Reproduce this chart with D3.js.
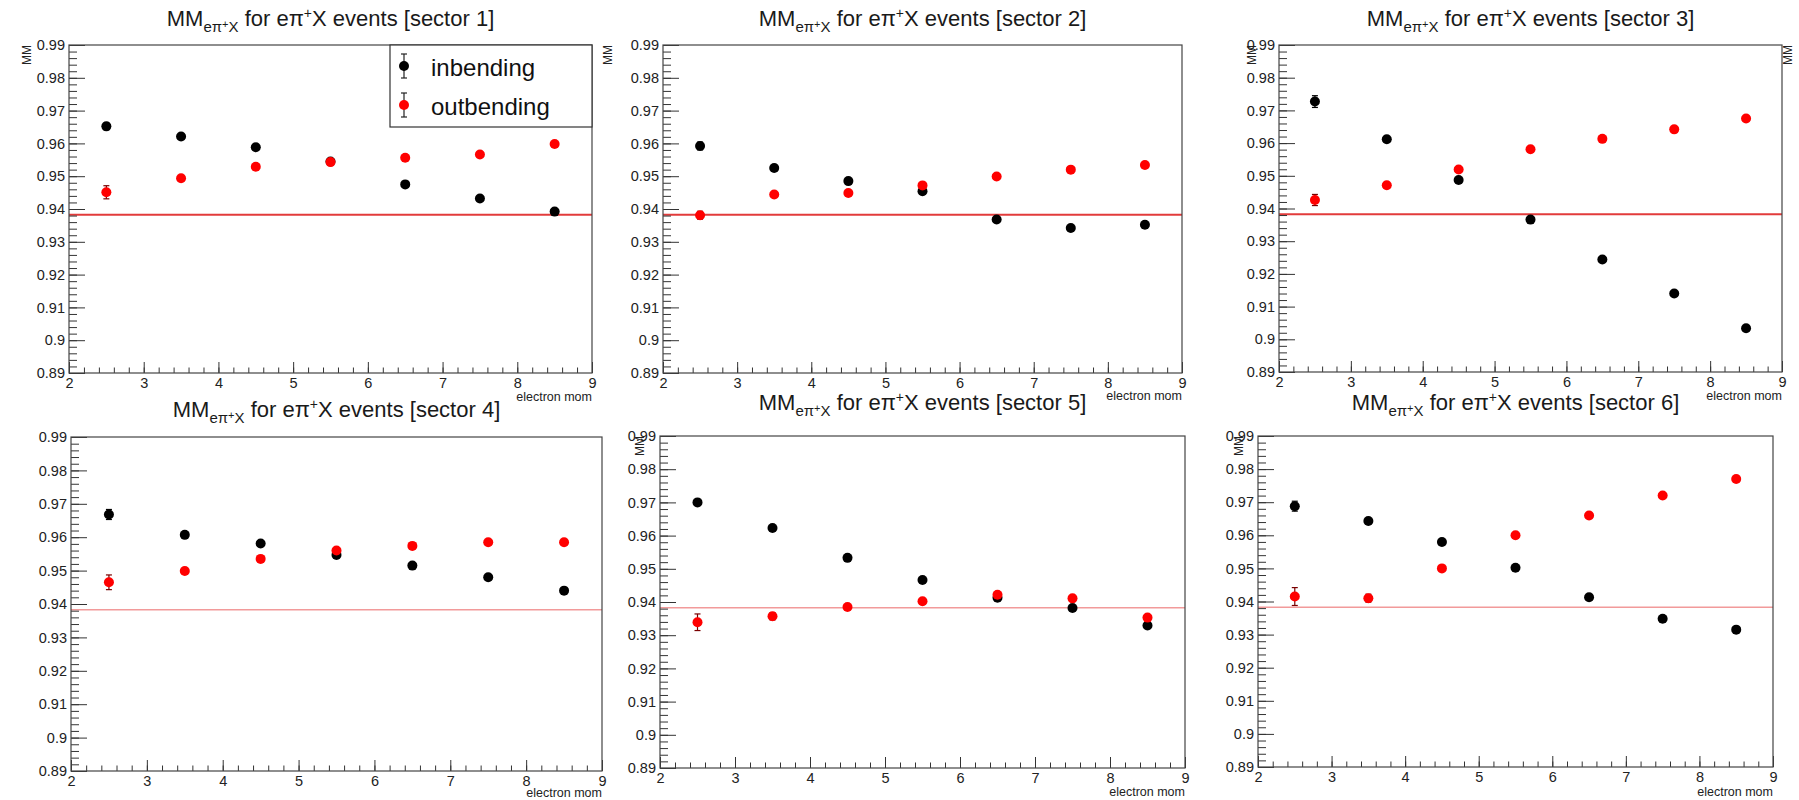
<!DOCTYPE html>
<html lang="en">
<head>
<meta charset="UTF-8">
<title>MM for e pi+ X events per sector</title>
<script src="https://d3js.org/d3.v7.min.js"></script>
<style>
  body { margin: 0; background: #fff; }
  svg { display: block; font-family: 'Liberation Sans', Arial, sans-serif; }
</style>
</head>
<body>
<script>
  // values
  const sectors = [1, 2, 3, 4, 5, 6];
  const electronMom = [2.5, 3.5, 4.5, 5.5, 6.5, 7.5, 8.5];

  const inbendingMM = [
    [0.9652, 0.9621, 0.9588, 0.9545, 0.9475, 0.9432, 0.9392],
    [0.9592, 0.9525, 0.9485, 0.9454, 0.9368, 0.9342, 0.9352],
    [0.9727, 0.9612, 0.9487, 0.9366, 0.9244, 0.9140, 0.9034],
    [0.9668, 0.9607, 0.9581, 0.9547, 0.9515, 0.9480, 0.9440],
    [0.9700, 0.9623, 0.9533, 0.9466, 0.9413, 0.9382, 0.9329],
    [0.9688, 0.9643, 0.9580, 0.9502, 0.9413, 0.9348, 0.9315]
  ];
  const inbendingErr = [
    [0.0010, 0.0005, 0.0005, 0.0005, 0.0005, 0.0005, 0.0005],
    [0.0012, 0.0006, 0.0005, 0.0005, 0.0005, 0.0005, 0.0005],
    [0.0018, 0.0006, 0.0005, 0.0005, 0.0005, 0.0005, 0.0005],
    [0.0015, 0.0006, 0.0005, 0.0005, 0.0005, 0.0005, 0.0005],
    [0.0008, 0.0005, 0.0005, 0.0005, 0.0005, 0.0005, 0.0005],
    [0.0015, 0.0006, 0.0005, 0.0005, 0.0005, 0.0005, 0.0005]
  ];
  const outbendingMM = [
    [0.9451, 0.9494, 0.9529, 0.9543, 0.9556, 0.9566, 0.9598],
    [0.9381, 0.9444, 0.9449, 0.9472, 0.9499, 0.9520, 0.9534],
    [0.9426, 0.9471, 0.9519, 0.9581, 0.9613, 0.9642, 0.9675],
    [0.9465, 0.9499, 0.9535, 0.9560, 0.9574, 0.9585, 0.9585],
    [0.9339, 0.9357, 0.9385, 0.9402, 0.9422, 0.9411, 0.9353],
    [0.9415, 0.9410, 0.9500, 0.9600, 0.9660, 0.9720, 0.9770]
  ];
  const outbendingErr = [
    [0.0020, 0.0007, 0.0005, 0.0005, 0.0005, 0.0005, 0.0005],
    [0.0012, 0.0006, 0.0005, 0.0005, 0.0005, 0.0005, 0.0005],
    [0.0017, 0.0007, 0.0005, 0.0005, 0.0005, 0.0005, 0.0005],
    [0.0022, 0.0008, 0.0005, 0.0005, 0.0005, 0.0005, 0.0005],
    [0.0025, 0.0011, 0.0005, 0.0005, 0.0005, 0.0005, 0.0005],
    [0.0027, 0.0012, 0.0006, 0.0005, 0.0005, 0.0005, 0.0005]
  ];
  const protonMass = 0.938272;

  const xTicks = [2, 3, 4, 5, 6, 7, 8, 9];
  const yTicks = [0.89, 0.90, 0.91, 0.92, 0.93, 0.94, 0.95, 0.96, 0.97, 0.98, 0.99];
  const legendLabels = ["inbending", "outbending"];

  // where each pasted-together pad sits on the page
  const pads = [
    { x0: 69, x1: 592, y0: 45, y1: 373, titleY: 26, mmX: 31, momY: 401, line: "#e23b3b", lw: 2 },
    { x0: 663, x1: 1182, y0: 45, y1: 373, titleY: 26, mmX: 612, momY: 400, line: "#e23b3b", lw: 2 },
    { x0: 1279, x1: 1782, y0: 45, y1: 372, titleY: 26, mmX: 1256, momY: 400, line: "#e23b3b", lw: 2 },
    { x0: 71, x1: 602, y0: 437, y1: 771, titleY: 417, mmX: null, momY: 797, line: "#f29a9a", lw: 1.5 },
    { x0: 660, x1: 1185, y0: 436, y1: 768, titleY: 410, mmX: 644, momY: 796, line: "#f29a9a", lw: 1.5 },
    { x0: 1258, x1: 1773, y0: 436, y1: 767, titleY: 410, mmX: 1243, momY: 796, line: "#f29a9a", lw: 1.5 }
  ];

  const width = 1799, height = 800;
  const svg = d3.select("body").append("svg")
    .attr("width", width)
    .attr("height", height);

  const fmt = d => String(+d.toFixed(2));
  const minorY = d3.range(0, 51).map(i => 0.89 + i * 0.002);
  const minorX = d3.range(0, 36).map(i => 2 + i * 0.2);

  function addTitle(g, cx, y, sector) {
    const t = g.append("text")
      .attr("x", cx).attr("y", y)
      .attr("text-anchor", "middle")
      .attr("fill", "#1a1a1a")
      .style("font-size", "22px");
    t.append("tspan").text("MM");
    t.append("tspan").attr("dy", 6).style("font-size", "15px").text("eπ");
    t.append("tspan").attr("dy", -4).style("font-size", "11px").text("+");
    t.append("tspan").attr("dy", 4).style("font-size", "15px").text("X");
    t.append("tspan").attr("dy", -6).text(" for eπ");
    t.append("tspan").attr("dy", -8).style("font-size", "14px").text("+");
    t.append("tspan").attr("dy", 8).text(`X events [sector ${sector}]`);
  }

  function drawSeries(g, x, y, vals, errs, color, errColor) {
    const pts = electronMom.map((m, i) => ({ m, v: vals[i], e: errs[i] }));
    const s = g.append("g");
    s.selectAll(".err").data(pts).enter().append("line")
      .attr("x1", d => x(d.m)).attr("x2", d => x(d.m))
      .attr("y1", d => y(d.v - d.e)).attr("y2", d => y(d.v + d.e))
      .attr("stroke", errColor).attr("stroke-width", 1.2);
    ["lo", "hi"].forEach(k => {
      s.selectAll(".cap" + k).data(pts).enter().append("line")
        .attr("x1", d => x(d.m) - 3).attr("x2", d => x(d.m) + 3)
        .attr("y1", d => y(k === "lo" ? d.v - d.e : d.v + d.e))
        .attr("y2", d => y(k === "lo" ? d.v - d.e : d.v + d.e))
        .attr("stroke", errColor).attr("stroke-width", 1.2);
    });
    s.selectAll(".dot").data(pts).enter().append("circle")
      .attr("cx", d => x(d.m)).attr("cy", d => y(d.v))
      .attr("r", 5).attr("fill", color);
  }

  sectors.forEach((sec, i) => {
    const p = pads[i];
    const g = svg.append("g");
    const x = d3.scaleLinear().domain([2, 9]).range([p.x0, p.x1]);
    const y = d3.scaleLinear().domain([0.89, 0.99]).range([p.y1, p.y0]);

    addTitle(g, (p.x0 + p.x1) / 2, p.titleY, sec);

    // reference line at the proton mass
    g.append("line")
      .attr("x1", x(2)).attr("x2", x(9))
      .attr("y1", y(protonMass)).attr("y2", y(protonMass))
      .attr("stroke", p.line).attr("stroke-width", p.lw);

    // y axis: majors + minors
    const yMajor = g.append("g").attr("transform", `translate(${p.x0},0)`)
      .call(d3.axisLeft(y).tickValues(yTicks).tickSize(-16).tickPadding(4).tickFormat(fmt));
    const yMinor = g.append("g").attr("transform", `translate(${p.x0},0)`)
      .call(d3.axisLeft(y).tickValues(minorY).tickSize(-8).tickFormat(""));
    // x axis
    const xMajor = g.append("g").attr("transform", `translate(0,${p.y1})`)
      .call(d3.axisBottom(x).tickValues(xTicks).tickSize(-11).tickPadding(5).tickFormat(d3.format("d")));
    const xMinor = g.append("g").attr("transform", `translate(0,${p.y1})`)
      .call(d3.axisBottom(x).tickValues(minorX).tickSize(-5.5).tickFormat(""));
    [yMajor, yMinor, xMajor, xMinor].forEach(a => {
      a.select(".domain").remove();
      a.selectAll(".tick line").attr("stroke", "#333");
      a.selectAll(".tick text").attr("fill", "#222").style("font-size", "14.5px")
        .style("font-family", "'Liberation Sans', Arial, sans-serif");
    });

    // frame
    g.append("rect")
      .attr("x", p.x0).attr("y", p.y0)
      .attr("width", p.x1 - p.x0).attr("height", p.y1 - p.y0)
      .attr("fill", "none").attr("stroke", "#444").attr("stroke-width", 1.2);

    drawSeries(g, x, y, inbendingMM[i], inbendingErr[i], "#000", "#000");
    drawSeries(g, x, y, outbendingMM[i], outbendingErr[i], "#f00", "#7a0000");

    // axis titles
    g.append("text")
      .attr("x", p.x1).attr("y", p.momY)
      .attr("text-anchor", "end")
      .attr("fill", "#222")
      .style("font-size", "12.5px")
      .text("electron mom");
    if (p.mmX !== null) {
      g.append("text")
        .attr("transform", `translate(${p.mmX},${p.y0}) rotate(-90)`)
        .attr("text-anchor", "end")
        .attr("fill", "#222")
        .style("font-size", "12px")
        .text("MM");
    }

    // legend only on the first pad
    if (i === 0) {
      const lg = g.append("g");
      lg.append("rect")
        .attr("x", 390).attr("y", p.y0)
        .attr("width", p.x1 - 390).attr("height", 127 - p.y0)
        .attr("fill", "#fff").attr("stroke", "#333").attr("stroke-width", 1.2);
      const ly = d3.scalePoint().domain(legendLabels).range([66, 105]);
      const lc = d3.scaleOrdinal().domain(legendLabels).range(["#000", "#f00"]);
      legendLabels.forEach(lab => {
        const cy = ly(lab);
        lg.append("line").attr("x1", 404).attr("x2", 404)
          .attr("y1", cy - 12).attr("y2", cy + 12).attr("stroke", "#222").attr("stroke-width", 1.2);
        [cy - 12, cy + 12].forEach(cyy => lg.append("line")
          .attr("x1", 401).attr("x2", 407).attr("y1", cyy).attr("y2", cyy)
          .attr("stroke", "#222").attr("stroke-width", 1.2));
        lg.append("circle").attr("cx", 404).attr("cy", cy).attr("r", 5).attr("fill", lc(lab));
        lg.append("text").attr("x", 431).attr("y", cy + 10)
          .attr("fill", "#111").style("font-size", "24px").text(lab);
      });
    }
  });

  // stray axis title from the neighbouring screenshot at the far right
  svg.append("text")
    .attr("transform", "translate(1792,45) rotate(-90)")
    .attr("text-anchor", "end")
    .attr("fill", "#222")
    .style("font-size", "12px")
    .text("MM");
</script>
</body>
</html>
